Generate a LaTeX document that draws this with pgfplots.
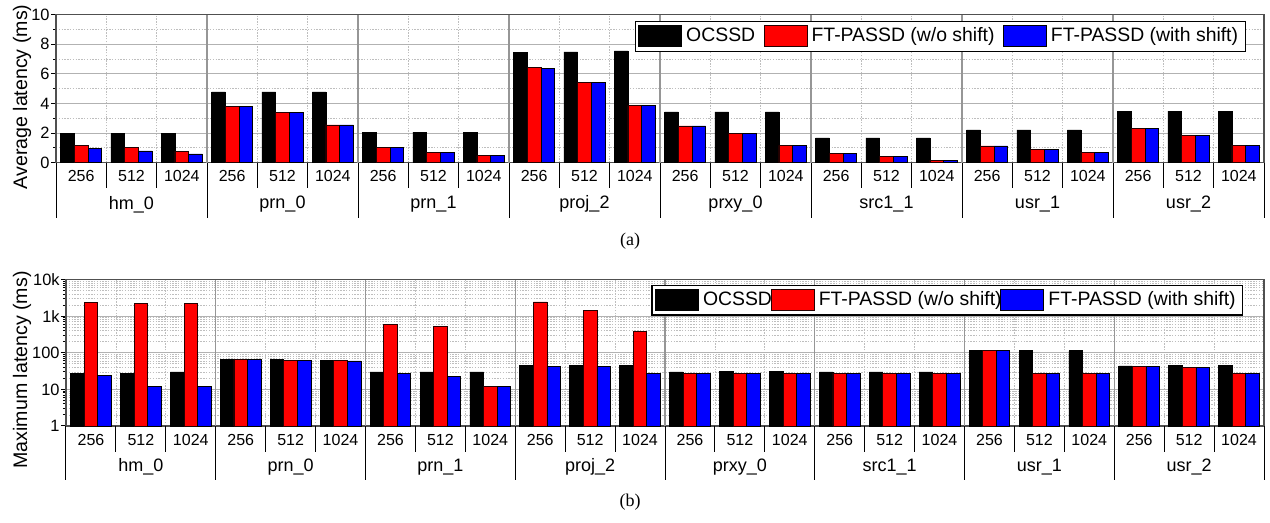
\documentclass[border=0pt]{standalone}
\usepackage{pgfplots}
\pgfplotsset{compat=1.18}
\usepackage{pgfplotstable}
\usepackage{fontspec}
\setmainfont{Liberation Sans}
\newfontfamily\capfont{Liberation Serif}

\definecolor{gridmaj}{RGB}{178,178,178}
\definecolor{gridmin}{RGB}{190,190,190}
\definecolor{grpline}{RGB}{150,150,150}
\definecolor{framec}{RGB}{80,80,80}

\pgfplotstableread{
x oc wo ws
0.5 1.95 1.17 0.99
1.5 1.95 1.01 0.79
2.5 1.95 0.77 0.59
3.5 4.78 3.83 3.83
4.5 4.78 3.40 3.40
5.5 4.78 2.55 2.55
6.5 2.07 1.06 1.02
7.5 2.07 0.72 0.72
8.5 2.07 0.47 0.47
9.5 7.43 6.44 6.35
10.5 7.48 5.45 5.40
11.5 7.55 3.88 3.88
12.5 3.43 2.48 2.48
13.5 3.43 1.99 1.99
14.5 3.43 1.17 1.17
15.5 1.67 0.63 0.63
16.5 1.67 0.45 0.45
17.5 1.67 0.16 0.16
18.5 2.21 1.13 1.13
19.5 2.21 0.90 0.90
20.5 2.21 0.70 0.70
21.5 3.49 2.34 2.34
22.5 3.49 1.85 1.85
23.5 3.49 1.17 1.17
}\avgdata

\pgfplotstableread{
x oc wo ws
0.5 27 2340 24.3
1.5 27.5 2250 12.1
2.5 30 2200 12
3.5 66 65 66
4.5 66 62 62
5.5 62 61 60
6.5 30 600 27.5
7.5 30 517 22.8
8.5 30 12.1 12.1
9.5 44.5 2450 42.8
10.5 45 1420 43
11.5 45 386 27.5
12.5 30 28 28
13.5 30.5 27.5 27.5
14.5 31 27.5 27.5
15.5 30 28 28
16.5 30 27.5 27.5
17.5 30 27.5 27.5
18.5 117 113 113
19.5 113 27.5 27.5
20.5 113 27.5 27.5
21.5 43.6 43 43
22.5 44 39 39
23.5 44.5 27.5 27.5
}\maxdata

\tikzset{grp/.style={font=\fontsize{9}{10}\selectfont}}
\pgfplotsset{
  barleg/.style={legend image code/.code={\draw[##1,line width=0.5pt] (0pt,-5.25pt) rectangle (21.5pt,5.25pt);}},
  common/.style={
    scale only axis, clip=false,
    xmin=0, xmax=24,
    ybar=0pt, bar width=0.272,
    xtick={0.5,1.5,...,23.5},
    xticklabels={256,512,1024,256,512,1024,256,512,1024,256,512,1024,256,512,1024,256,512,1024,256,512,1024,256,512,1024},
    minor xtick={1,2,4,5,7,8,10,11,13,14,16,17,19,20,22,23},
    tick style={black, line width=0.5pt},
    xtick style={draw=none},
    minor x tick style={draw=none},
    xminorgrids=true, ymajorgrids=true, yminorgrids=true,
    major grid style={gridmaj, line width=0.5pt},
    minor grid style={gridmin, dash pattern=on 0.7pt off 0.7pt, line width=0.4pt},
    axis line style={framec, line width=0.6pt},
    tick align=outside, xtick pos=bottom, ytick pos=left,
    major tick length=2.5pt, minor tick length=1.5pt,
    /pgf/number format/assume math mode=true,
    xticklabel style={font=\fontsize{8}{9}\selectfont, anchor=center, yshift=-4.3pt},
    yticklabel style={font=\fontsize{8.2}{9}\selectfont, inner sep=0.5pt},
    every axis y label/.style={rotate=90, anchor=center, font=\fontsize{9.8}{11}\selectfont},
    legend columns=3,
    legend cell align=left,
  }
}

\begin{document}
\begin{tikzpicture}
\useasboundingbox (0pt,0pt) rectangle (635pt,261.5pt);

% ---------------- (a) ----------------
\begin{axis}[common,
  at={(28pt,180.15pt)}, anchor=south west,
  width=604pt, height=74pt,
  ymin=0, ymax=10, ytick={0,2,...,10}, minor y tick num=1,
  ylabel={Average latency (ms)},
  ylabel style={at={(axis description cs:-0.0281,0.444)}},
  legend style={at={(1,1)}, anchor=north east, xshift=-9.15pt, yshift=-3pt,
    draw=black, line width=0.6pt, inner xsep=1.5pt, inner ysep=1.2pt,
    font=\fontsize{9.7}{11}\selectfont,
    /tikz/every even column/.append style={column sep=2.2pt}},
]
\pgfplotsinvokeforeach{3,6,9,12,15,18,21}{\draw[grpline, line width=0.6pt] (axis cs:#1,0) -- (axis cs:#1,10);}
\pgfplotsinvokeforeach{0,3,6,9,12,15,18,21,24}{\draw[black, line width=0.5pt] (axis cs:#1,0) -- ++(0pt,-27.6pt);}
\pgfplotsinvokeforeach{1,2,4,5,7,8,10,11,13,14,16,17,19,20,22,23}{\draw[black, line width=0.5pt] (axis cs:#1,0) -- ++(0pt,-12.8pt);}
\node[grp, yshift=-20.8pt] at (axis cs:1.5,0) {hm\_0};
\node[grp, yshift=-20.8pt] at (axis cs:4.5,0) {prn\_0};
\node[grp, yshift=-20.8pt] at (axis cs:7.5,0) {prn\_1};
\node[grp, yshift=-20.8pt] at (axis cs:10.5,0) {proj\_2};
\node[grp, yshift=-20.8pt] at (axis cs:13.5,0) {prxy\_0};
\node[grp, yshift=-20.8pt] at (axis cs:16.5,0) {src1\_1};
\node[grp, yshift=-20.8pt] at (axis cs:19.5,0) {usr\_1};
\node[grp, yshift=-20.8pt] at (axis cs:22.5,0) {usr\_2};
\addplot[fill=black, draw=black, line width=0.4pt, barleg] table[x=x, y=oc]{\avgdata};
\addlegendentry{OCSSD}
\addplot[fill=red, draw=black!85!red, line width=0.4pt, barleg] table[x=x, y=wo]{\avgdata};
\addlegendentry{FT-PASSD (w/o shift)}
\addplot[fill=blue, draw=black, line width=0.4pt, barleg] table[x=x, y=ws]{\avgdata};
\addlegendentry{FT-PASSD (with shift)}
\end{axis}
\node[font=\capfont\fontsize{9}{10}\selectfont] at (315pt,141pt) {(a)};

% ---------------- (b) ----------------
\begin{axis}[common,
  at={(33pt,48.5pt)}, anchor=south west,
  width=599pt, height=73.2pt,
  ymode=log, ymin=1, ymax=10000,
  ytick={1,10,100,1000,10000}, yticklabels={1,10,100,1k,10k},
  minor ytick={2,3,4,5,6,7,8,9,20,30,40,50,60,70,80,90,200,300,400,500,600,700,800,900,2000,3000,4000,5000,6000,7000,8000,9000},
  ylabel={Maximum latency (ms)},
  ylabel style={at={(axis description cs:-0.0367,0.383)}},
  legend style={at={(1,1)}, anchor=north east, xshift=-10.35pt, yshift=-2.5pt,
    draw=black, line width=0.6pt, inner xsep=1.5pt, inner ysep=1.2pt,
    font=\fontsize{9.7}{11}\selectfont,
    /tikz/every even column/.append style={column sep=-2.6pt}},
]
\pgfplotsinvokeforeach{3,6,9,12,15,18,21}{\draw[grpline, line width=0.6pt] (axis cs:#1,1) -- (axis cs:#1,10000);}
\pgfplotsinvokeforeach{0,3,6,9,12,15,18,21,24}{\draw[black, line width=0.5pt] (axis cs:#1,1) -- ++(0pt,-27pt);}
\pgfplotsinvokeforeach{1,2,4,5,7,8,10,11,13,14,16,17,19,20,22,23}{\draw[black, line width=0.5pt] (axis cs:#1,1) -- ++(0pt,-12.8pt);}
\node[grp, yshift=-20.35pt] at (axis cs:1.5,1) {hm\_0};
\node[grp, yshift=-20.35pt] at (axis cs:4.5,1) {prn\_0};
\node[grp, yshift=-20.35pt] at (axis cs:7.5,1) {prn\_1};
\node[grp, yshift=-20.35pt] at (axis cs:10.5,1) {proj\_2};
\node[grp, yshift=-20.35pt] at (axis cs:13.5,1) {prxy\_0};
\node[grp, yshift=-20.35pt] at (axis cs:16.5,1) {src1\_1};
\node[grp, yshift=-20.35pt] at (axis cs:19.5,1) {usr\_1};
\node[grp, yshift=-20.35pt] at (axis cs:22.5,1) {usr\_2};
\addplot[fill=black, draw=black, line width=0.4pt, barleg] table[x=x, y=oc]{\maxdata};
\addlegendentry{OCSSD}
\addplot[fill=red, draw=black!85!red, line width=0.4pt, barleg] table[x=x, y=wo]{\maxdata};
\addlegendentry{FT-PASSD (w/o shift)}
\addplot[fill=blue, draw=black, line width=0.4pt, barleg] table[x=x, y=ws]{\maxdata};
\addlegendentry{FT-PASSD (with shift)}
\end{axis}
\node[font=\capfont\fontsize{9}{10}\selectfont] at (315pt,10.5pt) {(b)};
\end{tikzpicture}
\end{document}
